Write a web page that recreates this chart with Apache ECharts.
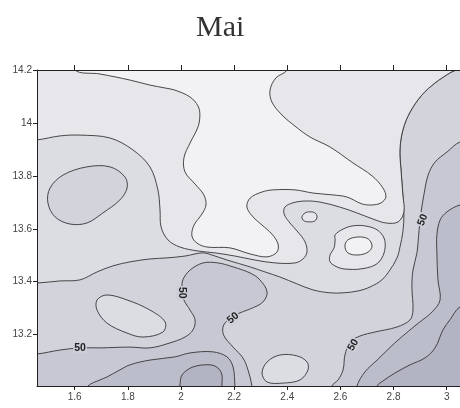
<!DOCTYPE html>
<html>
<head>
<meta charset="utf-8">
<script src="https://cdn.jsdelivr.net/npm/echarts@6/dist/echarts.min.js"></script>
<style>html,body{margin:0;padding:0;background:#fff}#c{width:460px;height:408px}</style>
</head>
<body>
<div id="c"></div>
<script>
// ---- data (x = longitude-like axis, y = latitude-like axis) ----
const xTicks = [1.6, 1.8, 2, 2.2, 2.4, 2.6, 2.8, 3];
const yTicks = [13.2, 13.4, 13.6, 13.8, 14, 14.2];
const xExtent = [1.458, 3.05];
const yExtent = [13.006, 14.2];

// contour regions (closed outlines, in data units; parts beyond the frame are clipped)
const bandUpper = [[1.394,14.276],[1.394,13.395],[1.458,13.395],[1.545,13.403],[1.620,13.407],[1.684,13.437],[1.744,13.460],[1.808,13.475],[1.883,13.486],[1.947,13.490],[2.015,13.497],[2.083,13.509],[2.128,13.497],[2.173,13.482],[2.260,13.456],[2.316,13.437],[2.372,13.418],[2.436,13.392],[2.497,13.369],[2.561,13.358],[2.610,13.358],[2.666,13.365],[2.711,13.380],[2.756,13.407],[2.786,13.444],[2.813,13.490],[2.824,13.531],[2.835,13.588],[2.839,13.652],[2.835,13.728],[2.828,13.822],[2.824,13.898],[2.835,13.973],[2.862,14.041],[2.907,14.106],[2.956,14.151],[3.012,14.189],[3.058,14.215],[3.088,14.276]];
const bandTop = [[1.394,14.276],[1.394,13.936],[1.458,13.936],[1.545,13.951],[1.620,13.954],[1.733,13.943],[1.819,13.898],[1.883,13.834],[1.913,13.747],[1.921,13.671],[1.925,13.607],[1.951,13.558],[1.996,13.531],[2.064,13.516],[2.128,13.509],[2.203,13.497],[2.278,13.482],[2.354,13.471],[2.429,13.471],[2.459,13.486],[2.474,13.512],[2.467,13.550],[2.440,13.588],[2.410,13.622],[2.388,13.656],[2.391,13.682],[2.421,13.698],[2.467,13.705],[2.523,13.701],[2.598,13.682],[2.662,13.660],[2.722,13.637],[2.771,13.622],[2.817,13.626],[2.839,13.664],[2.835,13.728],[2.828,13.822],[2.824,13.898],[2.835,13.973],[2.862,14.041],[2.907,14.106],[2.956,14.151],[3.012,14.189],[3.058,14.215],[3.088,14.276]];
const bandPeak = [[1.601,14.276],[1.601,14.200],[1.695,14.185],[1.808,14.162],[1.883,14.143],[1.940,14.132],[1.977,14.124],[2.034,14.098],[2.064,14.064],[2.071,14.030],[2.064,13.985],[2.034,13.924],[2.011,13.868],[2.015,13.815],[2.053,13.769],[2.086,13.728],[2.094,13.690],[2.079,13.656],[2.049,13.614],[2.041,13.573],[2.060,13.546],[2.098,13.531],[2.184,13.528],[2.260,13.505],[2.324,13.494],[2.361,13.512],[2.365,13.543],[2.342,13.580],[2.305,13.614],[2.271,13.645],[2.248,13.682],[2.260,13.716],[2.305,13.739],[2.346,13.747],[2.429,13.747],[2.497,13.735],[2.572,13.728],[2.625,13.720],[2.681,13.694],[2.719,13.690],[2.753,13.698],[2.771,13.720],[2.760,13.754],[2.719,13.800],[2.647,13.849],[2.561,13.909],[2.485,13.947],[2.429,13.988],[2.380,14.030],[2.342,14.079],[2.335,14.124],[2.357,14.170],[2.399,14.200],[2.410,14.276]];
const islandNW = [[1.507,13.754],[1.556,13.803],[1.646,13.834],[1.733,13.834],[1.789,13.796],[1.797,13.754],[1.770,13.709],[1.706,13.660],[1.646,13.622],[1.582,13.618],[1.526,13.645],[1.499,13.698]];
const hillRing = [[2.580,13.577],[2.610,13.599],[2.647,13.611],[2.692,13.611],[2.738,13.596],[2.764,13.565],[2.768,13.528],[2.756,13.490],[2.730,13.463],[2.674,13.448],[2.617,13.448],[2.587,13.456],[2.561,13.475],[2.561,13.501],[2.576,13.528],[2.580,13.558]];
const hillPeak = [[2.617,13.535],[2.628,13.558],[2.666,13.569],[2.704,13.562],[2.719,13.535],[2.704,13.512],[2.666,13.501],[2.628,13.509]];
const hillSmall = [[2.455,13.645],[2.467,13.660],[2.485,13.664],[2.504,13.660],[2.512,13.645],[2.504,13.630],[2.485,13.626],[2.463,13.630]];
const band50Left = [[1.394,13.127],[1.458,13.127],[1.545,13.142],[1.620,13.150],[1.695,13.150],[1.808,13.153],[1.883,13.150],[1.959,13.169],[2.015,13.191],[2.045,13.218],[2.053,13.256],[2.034,13.293],[2.011,13.331],[2.004,13.369],[2.007,13.407],[2.034,13.444],[2.083,13.471],[2.139,13.471],[2.196,13.456],[2.260,13.433],[2.297,13.407],[2.324,13.361],[2.308,13.323],[2.260,13.297],[2.211,13.278],[2.177,13.256],[2.158,13.229],[2.162,13.195],[2.196,13.153],[2.233,13.112],[2.252,13.067],[2.267,13.006],[2.271,12.953],[1.394,12.953]];
const bandLowLeft = [[1.620,12.953],[1.650,13.006],[1.695,13.029],[1.721,13.040],[1.763,13.063],[1.808,13.086],[1.883,13.104],[1.977,13.116],[2.034,13.131],[2.120,13.135],[2.173,13.116],[2.196,13.078],[2.203,13.006],[2.207,12.953]];
const bandLowestLeft = [[1.989,12.953],[1.996,13.010],[2.004,13.048],[2.045,13.078],[2.109,13.086],[2.139,13.074],[2.154,13.048],[2.154,13.006],[2.158,12.953]];
const islandSW = [[1.684,13.331],[1.721,13.350],[1.797,13.331],[1.883,13.293],[1.940,13.248],[1.932,13.210],[1.857,13.191],[1.797,13.206],[1.721,13.244],[1.684,13.293]];
const islandS = [[2.305,13.055],[2.324,13.097],[2.372,13.123],[2.436,13.120],[2.474,13.097],[2.478,13.067],[2.448,13.029],[2.384,13.017],[2.324,13.021]];
const band50Right = [[3.088,13.924],[3.050,13.928],[3.001,13.890],[2.956,13.852],[2.930,13.803],[2.914,13.728],[2.903,13.660],[2.896,13.596],[2.888,13.509],[2.873,13.444],[2.869,13.380],[2.873,13.293],[2.862,13.256],[2.813,13.229],[2.730,13.210],[2.674,13.195],[2.636,13.172],[2.617,13.123],[2.610,13.067],[2.591,13.029],[2.568,13.006],[2.561,12.953],[3.088,12.953]];
const bandLowRight = [[3.088,13.690],[3.050,13.690],[3.001,13.664],[2.975,13.633],[2.963,13.577],[2.963,13.509],[2.967,13.407],[2.975,13.331],[2.945,13.286],[2.899,13.248],[2.862,13.218],[2.805,13.169],[2.738,13.104],[2.692,13.059],[2.662,13.006],[2.655,12.953],[3.088,12.953]];
const bandLowestRight = [[3.088,13.305],[3.050,13.305],[3.012,13.256],[2.986,13.218],[2.956,13.150],[2.918,13.112],[2.862,13.086],[2.805,13.055],[2.760,13.025],[2.738,13.006],[2.730,12.953],[3.088,12.953]];

// contour labels on the 50 isoline
const labelPoints = [[1.620,13.150],[2.004,13.358],[2.196,13.263],[2.648,13.161],[2.910,13.633]];
const labelText = '50';

// ---- styling ----
const palette = ['#f2f2f5','#e6e6eb','#dcdce3','#d2d3db','#c7c8d3','#bcbdcb','#b2b3c3'];
const layers = [
  [bandUpper, 2], [bandTop, 1], [bandPeak, 0], [islandNW, 3],
  [hillSmall, 1], [hillRing, 1], [hillPeak, 0],
  [band50Left, 4], [bandLowLeft, 5], [bandLowestLeft, 6], [islandSW, 2], [islandS, 2],
  [band50Right, 4], [bandLowRight, 5], [bandLowestRight, 6]
];
const labelRot = [0, -Math.PI/2, Math.PI*0.23, Math.PI*0.33, Math.PI*0.38];

const chart = echarts.init(document.getElementById('c'), null, {renderer: 'canvas'});

const series = [{
  type: 'custom', coordinateSystem: 'cartesian2d', silent: true, clip: true,
  data: [[0, 0]],
  renderItem: function (params, api) {
    return {type: 'rect', shape: {x: params.coordSys.x, y: params.coordSys.y, width: params.coordSys.width, height: params.coordSys.height}, style: {fill: palette[3]}};
  }
}];
layers.forEach(function (ly) {
  const pts = ly[0], color = palette[ly[1]];
  series.push({
    type: 'custom', coordinateSystem: 'cartesian2d', silent: true, clip: true,
    data: [[pts[0][0], pts[0][1]]],
    renderItem: function (params, api) {
      const px = pts.map(function (p) { return api.coord(p); });
      return {type: 'polygon', shape: {points: px, smooth: 0.35}, style: {fill: color, stroke: '#363636', lineWidth: 0.9}};
    }
  });
});
series.push({
  type: 'custom', coordinateSystem: 'cartesian2d', silent: true, clip: true,
  data: labelPoints,
  renderItem: function (params, api) {
    const p = api.coord([api.value(0), api.value(1)]);
    return {type: 'text', x: p[0], y: p[1], rotation: labelRot[params.dataIndex],
      style: {text: labelText, fill: '#222', font: 'bold 10.5px "Liberation Sans", Arial, sans-serif', align: 'center', verticalAlign: 'middle', backgroundColor: '#cdced8', padding: [0, 1]}};
  }
});

const axisCommon = {
  type: 'value', min: xExtent[0], max: xExtent[1], z: 10,
  splitLine: {show: false},
  axisLine: {show: true, onZero: false, lineStyle: {color: '#222', width: 1}}
};

chart.setOption({
  animation: false,
  title: {text: 'Mai', left: 191, top: 8, textStyle: {fontFamily: '"Liberation Serif", "Times New Roman", serif', fontSize: 30, fontWeight: 'normal', color: '#333'}},
  grid: {left: 37, top: 70, right: 0, bottom: 22},
  xAxis: [
    Object.assign({}, axisCommon, {position: 'bottom',
      axisTick: {show: true, inside: false, length: 4, customValues: xTicks, lineStyle: {color: '#222'}},
      axisLabel: {show: true, margin: 6, customValues: xTicks, fontSize: 10, color: '#444', fontFamily: '"Liberation Sans", Arial, sans-serif'}}),
    Object.assign({}, axisCommon, {position: 'top',
      axisTick: {show: true, inside: false, length: 5, customValues: xTicks, lineStyle: {color: '#222'}},
      axisLabel: {show: false}})
  ],
  yAxis: {
    type: 'value', min: yExtent[0], max: yExtent[1], z: 10, position: 'left',
    splitLine: {show: false},
    axisLine: {show: true, onZero: false, lineStyle: {color: '#222', width: 1}},
    axisTick: {show: true, inside: false, length: 4, customValues: yTicks, lineStyle: {color: '#222'}},
    axisLabel: {show: true, margin: 5, customValues: yTicks, fontSize: 10, color: '#444', fontFamily: '"Liberation Sans", Arial, sans-serif'}
  },
  series: series
});
</script>
</body>
</html>
